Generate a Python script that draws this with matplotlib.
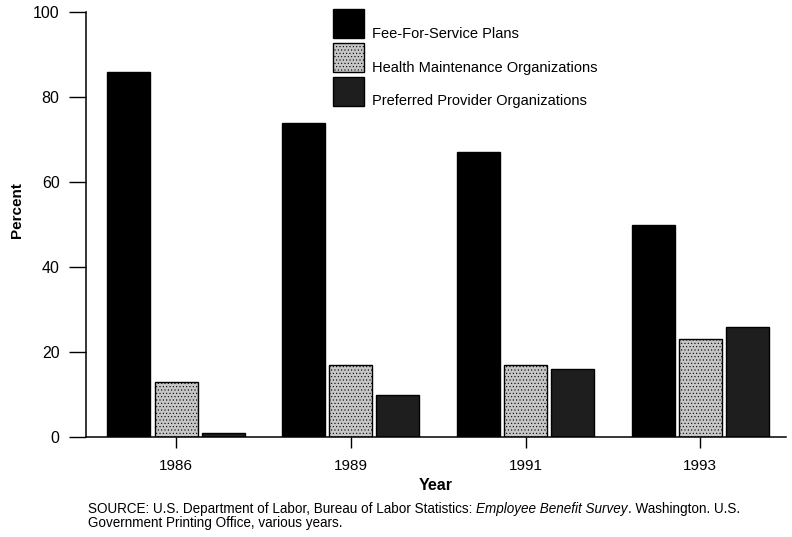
import matplotlib
matplotlib.use('Agg')
import matplotlib.pyplot as plt
from matplotlib.transforms import ScaledTranslation
import numpy as np

plt.rcParams['font.family'] = ['Liberation Sans', 'DejaVu Sans']
plt.rcParams['hatch.linewidth'] = 0.4

# Data (percent of employees, by plan type)
years = ['1986', '1989', '1991', '1993']
fee_for_service = [86, 74, 67, 50]
hmo = [13, 17, 17, 23]
ppo = [1, 10, 16, 26]
series_names = ['Fee-For-Service Plans',
                'Health Maintenance Organizations',
                'Preferred Provider Organizations']

W, H = 792, 537
fig = plt.figure(figsize=(W / 100, H / 100), dpi=100)
ax = fig.add_axes([86 / W, 1 - 437 / H, 700 / W, 425 / H])

x = np.arange(len(years))
width = 0.246
step = 0.269

ax.bar(x - step, fee_for_service, width, color='black', edgecolor='black',
       linewidth=1, label=series_names[0])
ax.bar(x, hmo, width, facecolor='#c6c6c6', edgecolor='black', hatch='.....',
       linewidth=1, label=series_names[1])
ax.bar(x + step, ppo, width, color='#1e1e1e', edgecolor='black',
       linewidth=1, label=series_names[2])

ax.set_xlim(-0.515, 3.49)
ax.set_ylim(0, 100)
ax.set_yticks([0, 20, 40, 60, 80, 100])
ax.set_xticks(x, years)

for s in ['top', 'right']:
    ax.spines[s].set_visible(False)
for s in ['left', 'bottom']:
    ax.spines[s].set_linewidth(1.1)

ax.tick_params(axis='y', length=12, width=1, pad=7, labelsize=11.5)
ax.tick_params(axis='x', length=8, width=1, pad=8, labelsize=11)

ax.set_ylabel('Percent', fontweight='bold', fontsize=11, ha='center', va='center')
ax.yaxis.set_label_coords((17.5 - 86) / 700, (437 - 210) / 425)
ax.set_xlabel('Year', fontweight='bold', fontsize=11.5, ha='center', va='center')
ax.xaxis.set_label_coords(0.5, -(486 - 437) / 425)

leg = ax.legend(loc='upper left', bbox_to_anchor=(333 / W, 1 - 9 / H),
                bbox_transform=fig.transFigure, frameon=False, fontsize=10.5,
                handlelength=2.1, handleheight=2.68, labelspacing=0.34,
                handletextpad=0.6, borderpad=0, borderaxespad=0)
# legend labels sit low, next to the bottom of each swatch
shift = ScaledTranslation(0, -7 / 72, fig.dpi_scale_trans)
for txt in leg.get_texts():
    txt.set_transform(txt.get_transform() + shift)

# Source note, with the survey title in italics
fs = 9.75
y1 = 1 - 509 / H
y2 = 1 - 523 / H
renderer = fig.canvas.get_renderer()
t = fig.text(88 / W, y1, 'SOURCE: U.S. Department of Labor, Bureau of Labor Statistics: ',
             fontsize=fs, va='center')
xe = t.get_window_extent(renderer).x1 / W
t = fig.text(xe, y1, 'Employee Benefit Survey', fontsize=fs, style='italic', va='center')
xe = t.get_window_extent(renderer).x1 / W
fig.text(xe, y1, '. Washington. U.S.', fontsize=fs, va='center')
fig.text(88 / W, y2, 'Government Printing Office, various years.', fontsize=fs, va='center')

fig.savefig('out.png', dpi=100)
